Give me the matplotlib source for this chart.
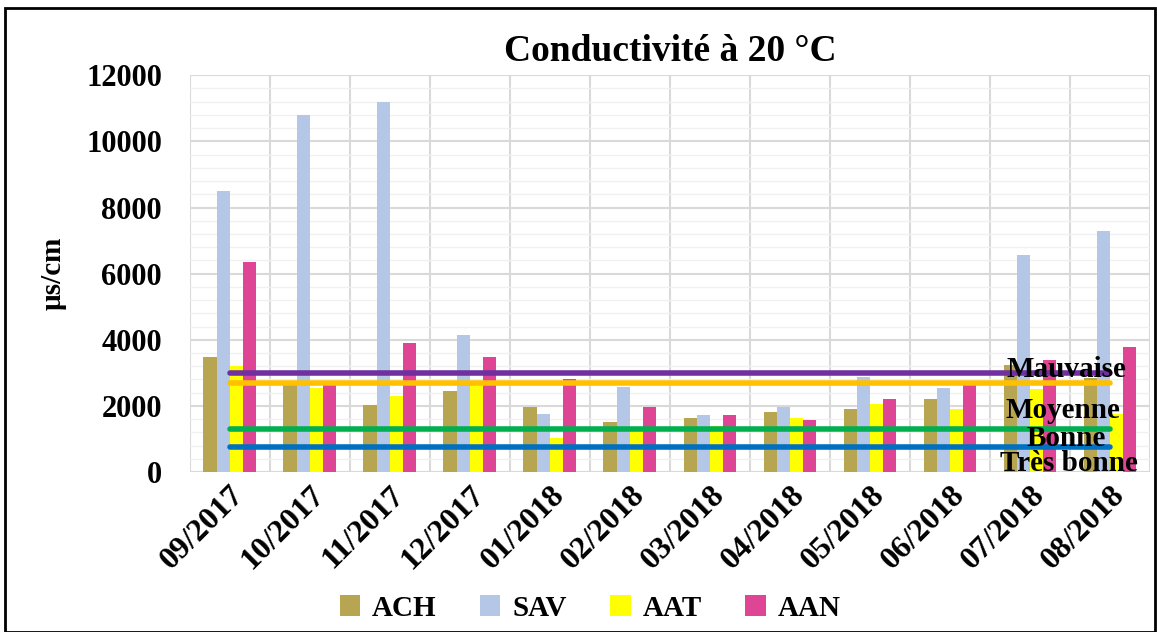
import matplotlib.pyplot as plt
import numpy as np

plt.rcParams['font.family'] = ['Liberation Serif', 'DejaVu Serif']
plt.rcParams['font.weight'] = 'bold'
plt.rcParams['axes.titleweight'] = 'bold'
plt.rcParams['axes.labelweight'] = 'bold'

months = ['09/2017', '10/2017', '11/2017', '12/2017', '01/2018', '02/2018',
          '03/2018', '04/2018', '05/2018', '06/2018', '07/2018', '08/2018']
ach = [3480, 2630, 2020, 2460, 1970, 1520, 1650, 1820, 1900, 2200, 3250, 2850]
sav = [8500, 10800, 11200, 4150, 1770, 2580, 1720, 1970, 2870, 2550, 6550, 7280]
aat = [3200, 2530, 2300, 2700, 1020, 1250, 1390, 1650, 2070, 1900, 2500, 1770]
aan = [6350, 2630, 3900, 3480, 2810, 1970, 1740, 1590, 2200, 2620, 3380, 3770]

# quality class limits
mauvaise = 3000
moyenne = 2700
bonne = 1300
tres_bonne = 750

x = np.arange(len(months))
w = 0.165

fig = plt.figure(figsize=(11.57, 6.32), dpi=100)
ax = fig.add_axes([0.164, 0.253, 0.830, 0.628])

ax.bar(x - 1.5*w, ach, w, color='#B8A552', label='ACH', zorder=2)
ax.bar(x - 0.5*w, sav, w, color='#B4C7E7', label='SAV', zorder=2)
ax.bar(x + 0.5*w, aat, w, color='#FFFF00', label='AAT', zorder=2)
ax.bar(x + 1.5*w, aan, w, color='#DE4594', label='AAN', zorder=2)

for val, col in [(mauvaise, '#7030A0'), (moyenne, '#FFC000'),
                 (bonne, '#00B050'), (tres_bonne, '#0070C0')]:
    ax.plot(x, [val]*len(x), color=col, lw=4, solid_capstyle='round', zorder=3)

ax.text(11.2, mauvaise + 100, 'Mauvaise', ha='right', va='center', fontsize=21, zorder=4)
ax.text(11.13, 1850, 'Moyenne', ha='right', va='center', fontsize=21, zorder=4)
ax.text(10.95, 1030, 'Bonne', ha='right', va='center', fontsize=21, zorder=4)
ax.text(11.35, 270, 'Très bonne', ha='right', va='center', fontsize=21, zorder=4)

ax.set_xlim(-0.5, 11.5)
ax.set_ylim(0, 12000)
ax.set_yticks(range(0, 12001, 2000))
ax.set_yticks(range(0, 12001, 400), minor=True)
ax.set_xticks(x)
ax.set_xticklabels(months, rotation=45, ha='right', rotation_mode='anchor', fontsize=23)
ax.set_xticks(np.arange(-0.5, 12, 1), minor=True)
ax.tick_params(axis='y', labelsize=22, length=0, which='both', pad=20)
ax.tick_params(axis='x', length=0, which='both', pad=6)
ax.grid(which='major', axis='y', color='#D9D9D9', lw=1.5, zorder=0)
ax.grid(which='minor', axis='y', color='#F0F0F0', lw=1, zorder=0)
ax.grid(which='minor', axis='x', color='#D9D9D9', lw=1.5, zorder=0)
for s in ax.spines.values():
    s.set_visible(False)
ax.axhline(0, color='#D9D9D9', lw=1.5, zorder=1)

ax.set_ylabel('µs/cm', fontsize=21, labelpad=14)
ax.set_title('Conductivité à 20 °C', fontsize=27, pad=10)

fig.legend(loc='lower center', bbox_to_anchor=(0.51, -0.025), ncol=4, frameon=False,
           fontsize=21, handlelength=0.7, handleheight=0.7, columnspacing=1.5,
           handletextpad=0.4)

fig.patches.append(plt.Rectangle((0.004, 0.0), 0.994, 0.987, transform=fig.transFigure,
                                 fill=False, edgecolor='black', lw=2))

fig.savefig('out.png', dpi=100)
